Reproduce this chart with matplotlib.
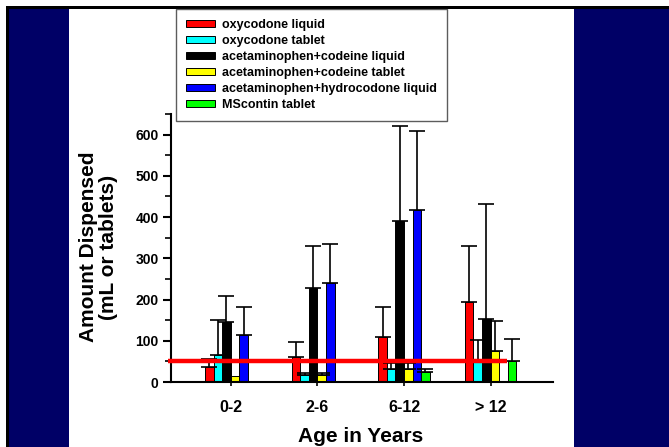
import matplotlib
matplotlib.use("Agg")
import matplotlib.pyplot as plt
from matplotlib.patches import Rectangle
from matplotlib.ticker import MultipleLocator
import numpy as np

plt.rcParams['font.family'] = ['Liberation Sans', 'DejaVu Sans']
plt.rcParams['font.weight'] = 'bold'

# ---- data ----
categories = ["0-2", "2-6", "6-12", "> 12"]
series_names = ["oxycodone liquid", "oxycodone tablet", "acetaminophen+codeine liquid",
                "acetaminophen+codeine tablet", "acetaminophen+hydrocodone liquid", "MScontin tablet"]
oxy_liquid_mean = [36, 61, 108, 193]
oxy_liquid_sd = [20, 36, 74, 137]
oxy_tablet_mean = [65, 16, 31, 50]
oxy_tablet_sd = [85, 6, 16, 53]
apap_cod_liquid_mean = [145, 228, 391, 154]
apap_cod_liquid_sd = [64, 102, 229, 277]
apap_cod_tablet_mean = [15, 16, 32, 74]
apap_cod_tablet_sd = [0, 6, 15, 74]
apap_hyd_liquid_mean = [113, 239, 416, 2]
apap_hyd_liquid_sd = [69, 95, 193, 0]
mscontin_tablet_mean = [2, 2, 24, 50]
mscontin_tablet_sd = [0, 0, 8, 55]
reference_level = 50

means = [oxy_liquid_mean, oxy_tablet_mean, apap_cod_liquid_mean,
         apap_cod_tablet_mean, apap_hyd_liquid_mean, mscontin_tablet_mean]
sds = [oxy_liquid_sd, oxy_tablet_sd, apap_cod_liquid_sd,
       apap_cod_tablet_sd, apap_hyd_liquid_sd, mscontin_tablet_sd]
colors = ["#ff0000", "#00ffff", "#000000", "#ffff00", "#0000ff", "#00ff00"]

W, H = 669, 447
fig = plt.figure(figsize=(W / 100, H / 100), dpi=100)
fig.patch.set_facecolor("white")

def frect(x0, y0, x1, y1, color):
    fig.patches.append(Rectangle((x0 / W, 1 - y1 / H), (x1 - x0) / W, (y1 - y0) / H,
                                 transform=fig.transFigure, facecolor=color,
                                 edgecolor="none", zorder=-10))

navy = "#000066"
frect(6, 6, W, 9, "black")
frect(6, 6, 9, H, "black")
frect(9, 9, 69, H, navy)
frect(574, 9, W, H, navy)

ax_l, ax_r, ax_t, ax_b = 171, 553, 114, 382
ax = fig.add_axes([ax_l / W, 1 - ax_b / H, (ax_r - ax_l) / W, (ax_b - ax_t) / H])
ax.set_facecolor("none")

x = np.arange(len(categories))
bw = 0.099
handles = []
for i, (m, s, c) in enumerate(zip(means, sds, colors)):
    pos = x + (i - 2.5) * bw
    b = ax.bar(pos, m, width=bw, color=c, edgecolor="black", linewidth=0.7, zorder=2,
               label=series_names[i])
    handles.append(b)
    s_arr = np.array(s, dtype=float)
    mask = s_arr > 0
    ax.errorbar(pos[mask], np.array(m)[mask],
                yerr=[np.zeros(mask.sum()), s_arr[mask]],
                fmt="none", ecolor="black", elinewidth=1.2, capsize=5.5, capthick=1.2, zorder=3)

ax.plot([-0.73, 3.19], [reference_level, reference_level], color="#ff0000",
        linewidth=3.2, zorder=5, clip_on=False, solid_capstyle="butt")

ax.set_xlim(-0.69, 3.72)
ax.set_ylim(0, 650)
ax.spines["top"].set_visible(False)
ax.spines["right"].set_visible(False)
ax.spines["left"].set_linewidth(1.5)
ax.spines["bottom"].set_linewidth(1.5)

ax.set_xticks(x)
ax.set_xticklabels(categories, fontsize=11.5, fontweight="bold")
ax.yaxis.set_major_locator(MultipleLocator(100))
ax.yaxis.set_minor_locator(MultipleLocator(50))
ax.set_yticks([0, 100, 200, 300, 400, 500, 600])
ax.tick_params(axis="y", which="major", length=6, width=1.5, labelsize=10, pad=3)
ax.tick_params(axis="y", which="minor", length=4, width=1.2)
ax.tick_params(axis="x", which="major", length=3, width=1.2, pad=10)
for lab in ax.get_yticklabels():
    lab.set_fontweight("bold")

fig.text(98.3 / W, 1 - 247 / H, "Amount Dispensed\n(mL or tablets)", rotation=90,
         ha="center", va="center", fontsize=15, fontweight="bold", linespacing=1.05)
fig.text(361 / W, 1 - 437 / H, "Age in Years", ha="center", va="center",
         fontsize=15, fontweight="bold")

leg = fig.legend(handles=handles, labels=series_names, loc="upper left",
                 bbox_to_anchor=(176 / W, 1 - 9 / H), bbox_transform=fig.transFigure,
                 prop={"weight": "bold", "size": 9},
                 frameon=True, fancybox=False, borderaxespad=0,
                 handlelength=2.3, handleheight=0.55, handletextpad=0.55,
                 labelspacing=0.32, borderpad=0.8)
leg.get_frame().set_edgecolor("#333333")
leg.get_frame().set_linewidth(1.0)

fig.savefig("out.png", dpi=100, facecolor=fig.get_facecolor())
